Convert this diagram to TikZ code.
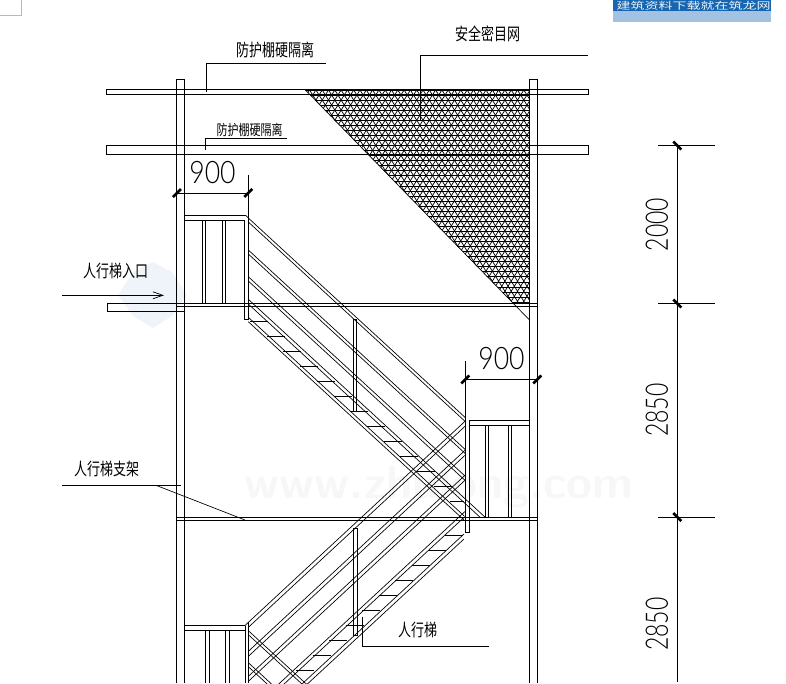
\documentclass[tikz,border=0pt]{standalone}
\usepackage{fontspec}
\usetikzlibrary{arrows.meta}
\newfontfamily\cjk{Noto Sans CJK SC}
\newfontfamily\dimfont[FakeStretch=0.74]{Lato Light}
\newcommand{\tallcn}[1]{\scalebox{1}[1.32]{#1}}
\newcommand{\widedim}[1]{\scalebox{1.16}[1]{#1}}
\definecolor{logoblue}{HTML}{1565B0}
\definecolor{logopale}{HTML}{A3C2E3}
\definecolor{markblue}{HTML}{EEF4F9}
\begin{document}
\begin{tikzpicture}[x=1pt,y=-1pt,
  wall/.style={line width=0.95pt},
  rail/.style={line width=0.68pt},
  net/.style={line width=0.72pt},
  leader/.style={line width=0.85pt},
  tread/.style={line width=0.95pt},
  tick/.style={line width=2.6pt},
  cnlabel/.style={font=\cjk\fontsize{13}{13}\selectfont,inner sep=0pt},
  dimlabel/.style={font=\dimfont\fontsize{31}{31}\selectfont,inner sep=0pt}]
\useasboundingbox (0,0) rectangle (786,683);
\clip (0,0) rectangle (786,683);
\draw [line width=0.8pt,gray!55] (0,15.5) -- (21.5,15.5) -- (21.5,0);
\fill [markblue] (153,262) -- (172,272) -- (187,295) -- (172,316) -- (153,328) -- (133,316) -- (118,295) -- (133,272) -- cycle;
\node (watermark) at (439,487) [font=\bfseries\sffamily\fontsize{47}{47}\selectfont,text=black!3,inner sep=0pt] {www.zhulong.com};
\fill [logoblue] (613,0) rectangle (771,11);
\fill [logopale] (613,11) rectangle (771,22);
\node (logotext) at (693.5,5.4) [font=\cjk\fontsize{14}{14}\selectfont,text=white!92!logoblue,inner sep=0pt] {\scalebox{1}[0.7]{建筑资料下载就在筑龙网}};
\begin{scope}
\clip (305,90) -- (529.7,90) -- (529.7,304) -- (513.8,304) -- cycle;
\foreach \i in {0,...,42} \draw [net] (300,90+5.05*\i) -- (535,90+5.05*\i);
\foreach \i in {0,...,114} {
  \draw [net] (171+6.3*\i,90) -- (305+6.3*\i,304);
  \draw [net] (171+6.3*\i,90) -- (37+6.3*\i,304);
}
\end{scope}
\draw [rail] (305,89.5) -- (529.5,320);
\draw [wall] (176.7,683) -- (176.7,79) -- (184.3,79) -- (184.3,683);
\draw [wall] (529.7,683) -- (529.7,79) -- (537.3,79) -- (537.3,683);
\draw [wall] (106.5,89.5) rectangle (588.5,94.5);
\draw [wall] (106.5,145.5) rectangle (588.5,154.5);
\draw [wall] (107.3,303.3) -- (537.3,303.3);
\draw [wall] (176.7,306.7) -- (537.3,306.7);
\draw [wall] (107.3,303.3) -- (107.3,311.3) -- (184.3,311.3);
\draw [wall] (176.7,517.3) -- (537.3,517.3);
\draw [wall] (176.7,520.3) -- (537.3,520.3);
\draw [wall] (184.3,215) -- (246,215);
\draw [wall] (184.3,220) -- (244,220);
\draw [wall] (244,220) -- (244,319) -- (248.3,319) -- (248.3,175);
\foreach \x in {202.3,205.3,222.3,225.7} \draw [wall] (\x,220) -- (\x,303.3);
\draw [wall] (469,420.7) -- (529.7,420.7);
\draw [wall] (469,425.7) -- (529.7,425.7);
\draw [wall] (469,420.7) -- (469,532) -- (465.3,532) -- (465.3,361);
\foreach \x in {485.3,488.7,508.3,511.7} \draw [wall] (\x,425.7) -- (\x,517.3);
\draw [wall] (184.3,625.7) -- (245,625.7);
\draw [wall] (184.3,630.3) -- (245,630.3);
\draw [wall] (245,625.7) -- (245,683);
\draw [wall] (248.7,622) -- (248.7,683);
\foreach \x in {205.7,209.3,225.7,229} \draw [wall] (\x,630.3) -- (\x,683);
\draw [wall] (353,319.5) rectangle (356.7,411);
\draw [wall] (353.3,528) rectangle (357.3,635);
\foreach \ya in {218,222,250,254,276.7,281} \draw [rail] (248.3,\ya) -- (465.3,\ya+199.6);
\draw [rail] (246,215.5) -- (248.3,218);
\draw [rail] (248.3,299.3) -- (484.9,517);
\draw [rail] (248.3,304) -- (479.8,517);
\draw [rail] (248.3,317.3) -- (464,515.8);
\draw [rail] (248.3,321.7) -- (464,520);
\foreach \ya in {421,426,450,455,475,480} \draw [rail] (465.3,\ya) -- (248.7,\ya+201);
\draw [rail] (248.7,622) -- (245,625.5);
\draw [rail] (465,511.5) -- (248.7,711.8);
\draw [rail] (465,516.5) -- (248.7,716.8);
\draw [rail] (464,534) -- (248.7,733.3);
\draw [rail] (464,539) -- (248.7,738.3);
\foreach \ya in {631,635,663,667} \draw [rail] (248.7,\ya) -- (348.7,\ya+92);
\foreach \i in {0,...,11} \draw [tread] (250+16.7*\i,321.3+15*\i) -- (268+16.7*\i,321.3+15*\i);
\draw [tread] (450,501.5) -- (464,501.5);
\foreach \i in {0,...,9} \draw [tread] (445-16.55*\i,535+15.05*\i) -- (463-16.55*\i,535+15.05*\i);
\coordinate (netleadA) at (206.5,92);
\coordinate (netleadB) at (326,63);
\draw [leader] (netleadA) |- (netleadB);
\node (labelupper) at (275.5,50) [cnlabel] {\tallcn{防护棚硬隔离}};
\coordinate (lowerleadA) at (205.5,150);
\coordinate (lowerleadB) at (287,138);
\draw [leader] (lowerleadA) |- (lowerleadB);
\node (labellower) at (249.5,129.5) [cnlabel,font=\cjk\fontsize{11}{11}\selectfont] {\tallcn{防护棚硬隔离}};
\coordinate (meshleadA) at (420.3,120);
\coordinate (meshleadB) at (588,55.3);
\draw [leader] (meshleadA) |- (meshleadB);
\node (labelmesh) at (487.5,34) [cnlabel] {\tallcn{安全密目网}};
\coordinate (entryA) at (62,295.3);
\coordinate (entryB) at (164,295.3);
\draw [leader,-{Straight Barb[length=10pt,width=7pt,line width=0.7pt]}] (entryA) -- (entryB);
\node (labelentry) at (115.5,271) [cnlabel] {\tallcn{人行梯入口}};
\coordinate (frameleadA) at (62,485.3);
\coordinate (frameleadB) at (180.7,485.3);
\coordinate (frameleadC) at (156,485.3);
\coordinate (frameleadD) at (245,520);
\draw [leader] (frameleadA) -- (frameleadB);
\draw [rail] (frameleadC) -- (frameleadD);
\node (labelframe) at (107,469) [cnlabel] {\tallcn{人行梯支架}};
\coordinate (stairleadA) at (362.3,616.7);
\coordinate (stairleadB) at (489,646);
\draw [leader] (stairleadA) |- (stairleadB);
\node (labelstair) at (418,630) [cnlabel] {\tallcn{人行梯}};
\coordinate (dimtopA) at (177,193);
\coordinate (dimtopB) at (248.3,193);
\coordinate (dimmidA) at (465.3,379.5);
\coordinate (dimmidB) at (537.3,379.5);
\draw [leader] (dimtopA) -- (dimtopB);
\draw [leader] (dimmidA) -- (dimmidB);
\foreach \c in {dimtopA,dimtopB,dimmidA,dimmidB} \draw [tick] ([xshift=-4pt,yshift=-4pt]\c) -- ([xshift=4pt,yshift=4pt]\c);
\node (dimtoptext) at (212.5,173) [dimlabel] {\widedim{900}};
\node (dimmidtext) at (501.5,358.5) [dimlabel] {\widedim{900}};
\coordinate (dimsideA) at (677.3,145.5);
\coordinate (dimsideB) at (677.3,303.5);
\coordinate (dimsideC) at (677.3,517);
\coordinate (dimsideD) at (677.3,682);
\draw [leader] (dimsideA) -- (dimsideD);
\foreach \c in {dimsideA,dimsideB,dimsideC} {
  \draw [leader] ([xshift=-19pt]\c) -- ([xshift=38pt]\c);
  \draw [tick] ([xshift=-4pt,yshift=4pt]\c) -- ([xshift=4pt,yshift=-4pt]\c);
}
\node (dimsidetextA) at (657,224.5) [dimlabel,rotate=90] {2000};
\node (dimsidetextB) at (657,410) [dimlabel,rotate=90] {2850};
\node (dimsidetextC) at (657,624) [dimlabel,rotate=90] {2850};
\end{tikzpicture}
\end{document}
